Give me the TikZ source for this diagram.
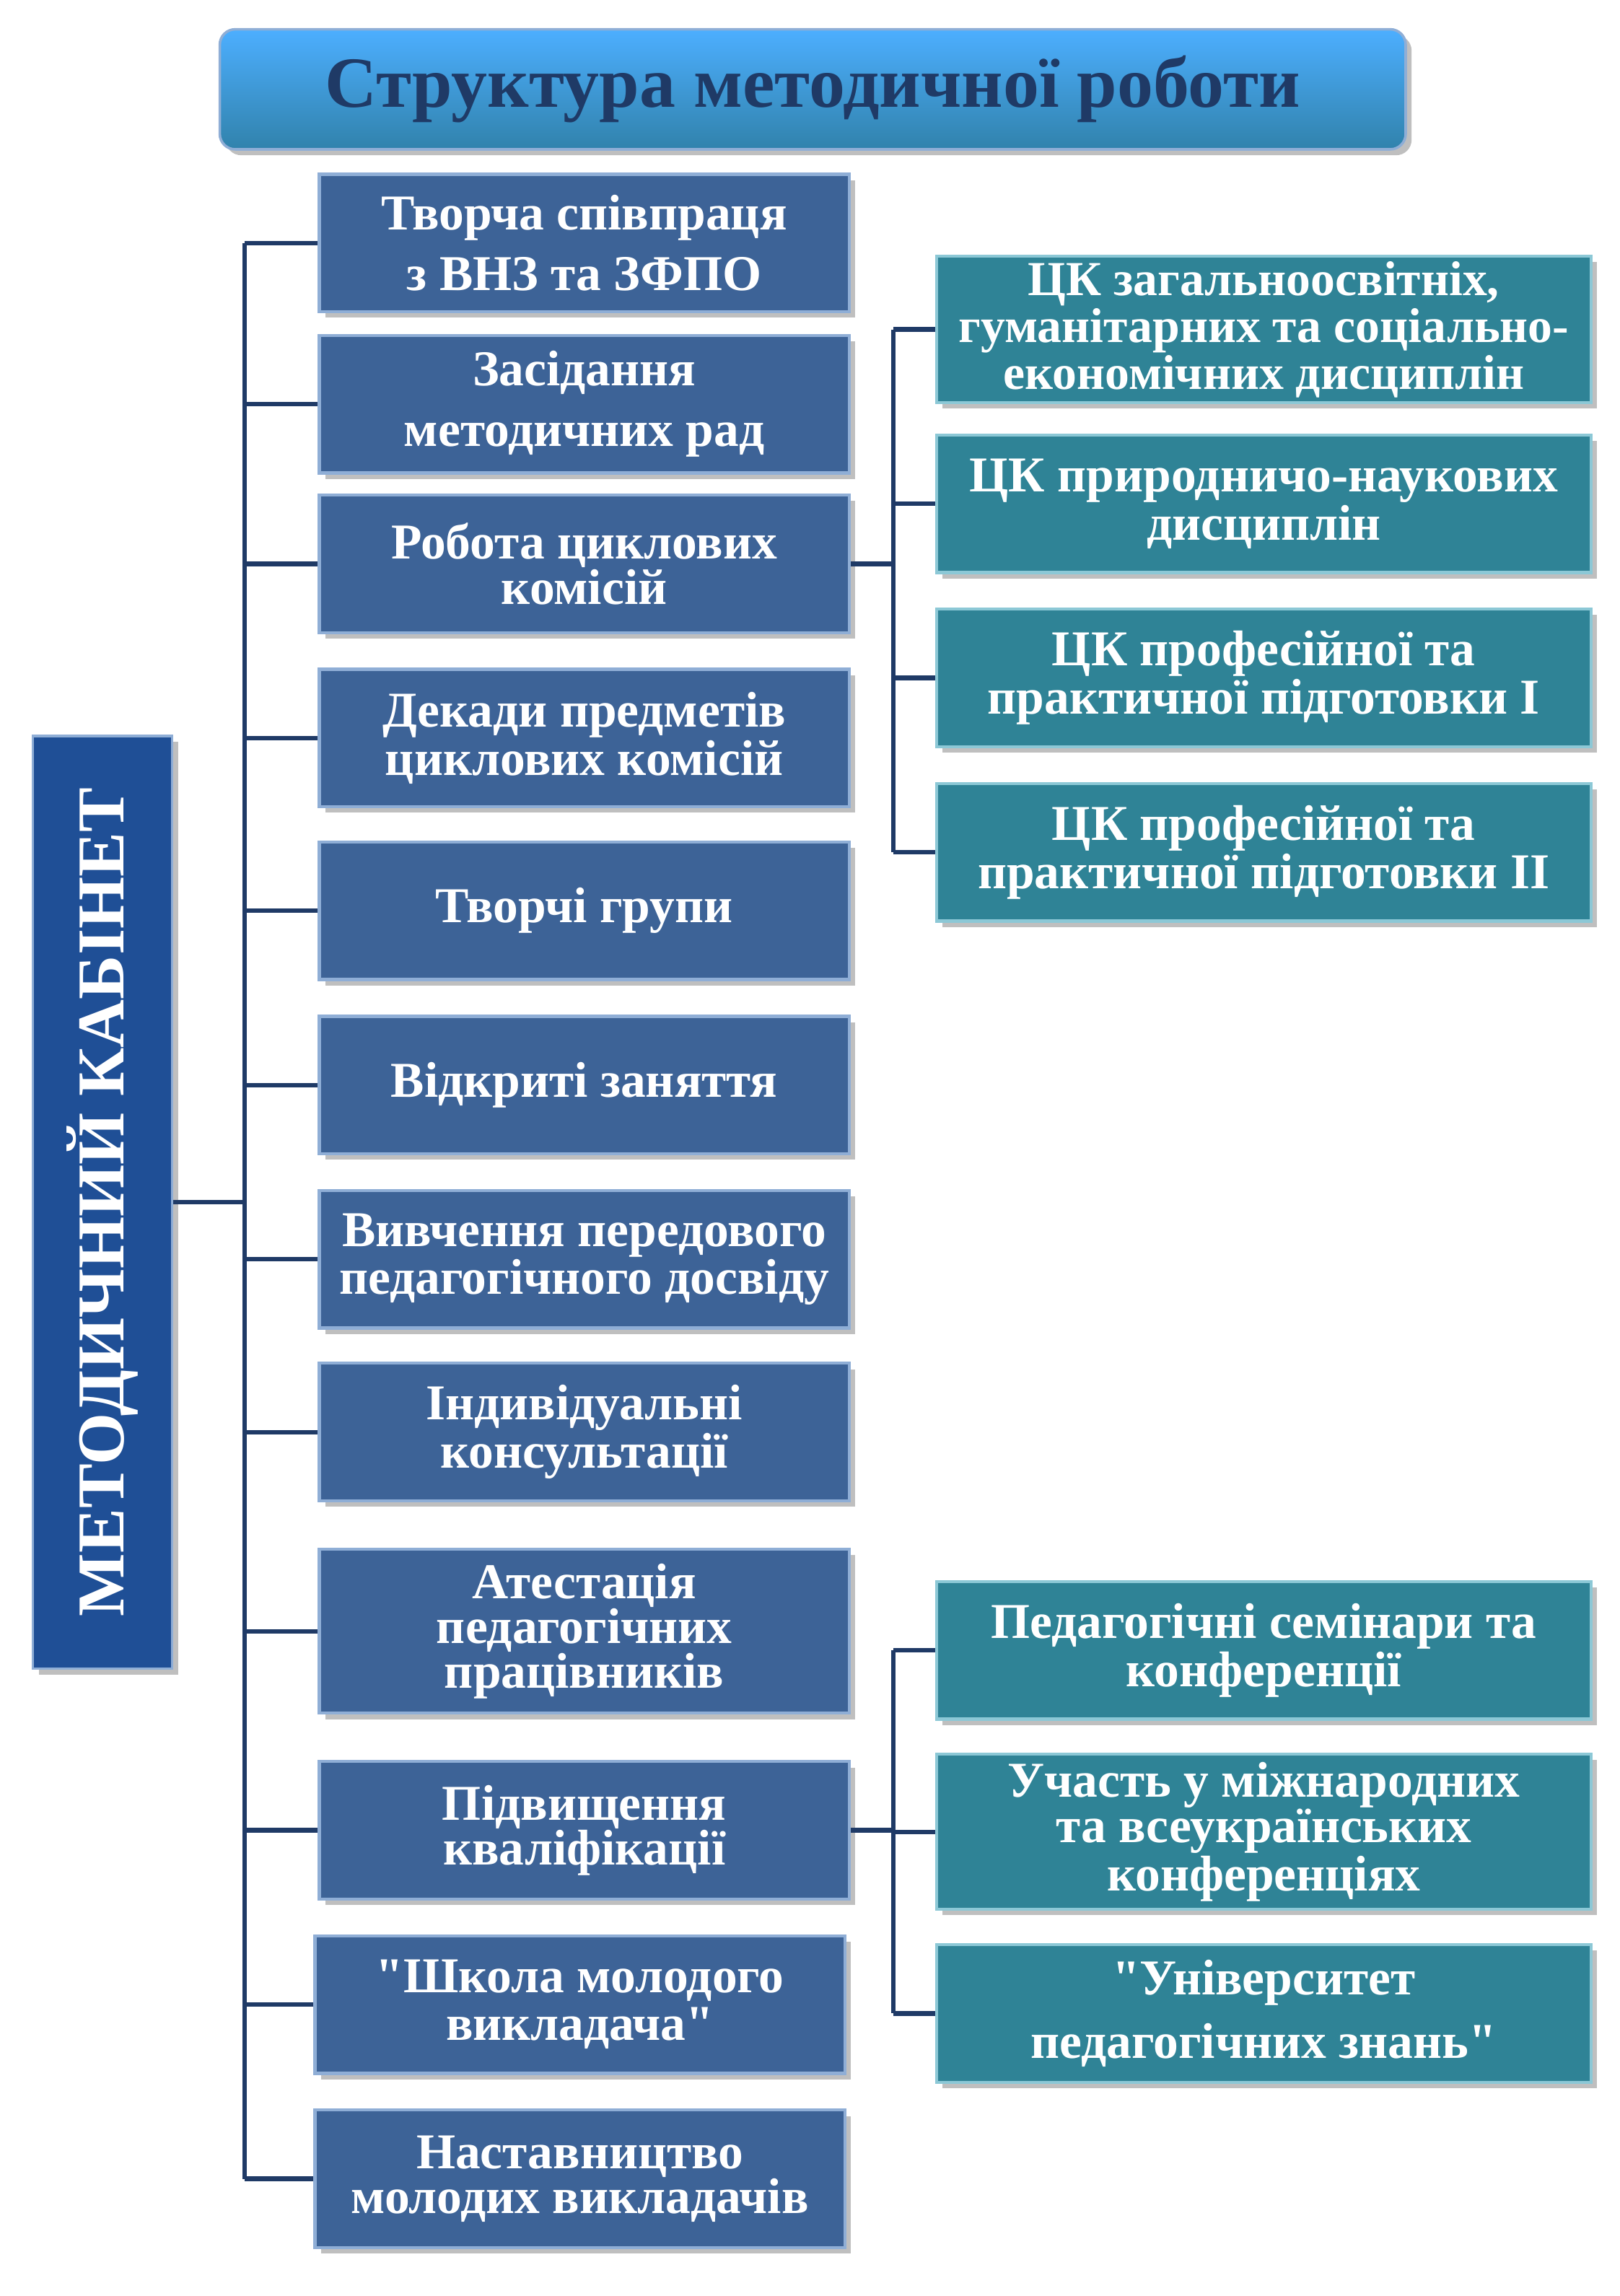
\documentclass[tikz,border=0pt]{standalone}
\usepackage{fontspec}
\setmainfont{Liberation Serif}
\usetikzlibrary{positioning,calc,shadows}
\definecolor{midblue}{HTML}{3D6397}
\definecolor{midedge}{HTML}{8FAED6}
\definecolor{tealbox}{HTML}{2F8396}
\definecolor{tealedge}{HTML}{8CC8D6}
\definecolor{navy}{HTML}{1F3A66}
\definecolor{darkblue}{HTML}{1F4F96}
\newcommand{\qt}{\textquotedbl}
\begin{document}
\begin{tikzpicture}
    [x=0.02cm, y=-0.02cm,
     midbox/.style={draw=midedge,line width=1.2pt,fill=midblue,text=white,
       minimum width=7.24cm,minimum height=1.88cm,align=center,inner sep=2pt,
       font=\bfseries\fontsize{19.5}{17.5}\selectfont,drop shadow},
     cabox/.style={midbox,draw=tealedge,fill=tealbox,minimum width=8.94cm},
     link/.style={navy,line width=1.8pt}]
    \useasboundingbox (0,0) rectangle (1106,1568);

    % Title
    \node (title) at (555,61) [rounded corners=6pt,draw=midedge,line width=1pt,
      top color=blue!45!cyan!70!white,bottom color=midblue!80!cyan,
      minimum width=16.2cm,minimum height=1.64cm,drop shadow,
      text=navy,font=\bfseries\fontsize{28}{28}\selectfont]
      {Структура методичної роботи};

    % Cabinet
    \node (mk) at (70,821) [draw=midedge,line width=1pt,fill=darkblue,
      drop shadow,text=white,
      font=\bfseries\fontsize{26}{26}\selectfont,rotate=90,
      minimum width=12.74cm,minimum height=1.9cm] {МЕТОДИЧНИЙ КАБІНЕТ};

    % Middle column
    \node (m1)  at (399,166)  [midbox] {Творча співпраця\\[6pt]з ВНЗ та ЗФПО};
    \node (m2)  at (399,276)  [midbox] {Засідання\\[6pt]методичних рад};
    \node (m3)  at (399,385)  [midbox] {Робота циклових\\комісій};
    \node (m4)  at (399,504)  [midbox] {Декади предметів\\циклових комісій};
    \node (m5)  at (399,622)  [midbox] {Творчі групи};
    \node (m6)  at (399,741)  [midbox] {Відкриті заняття};
    \node (m7)  at (399,860)  [midbox] {Вивчення передового\\педагогічного досвіду};
    \node (m8)  at (399,978)  [midbox] {Індивідуальні\\консультації};
    \node (m9)  at (399,1114) [midbox,minimum height=2.24cm] {Атестація\\педагогічних\\працівників};
    \node (m10) at (399,1250) [midbox] {Підвищення\\кваліфікації};
    \node (m11) at (396,1369) [midbox] {\qt Школа молодого\\[1pt]викладача\qt};
    \node (m12) at (396,1488) [midbox] {Наставництво\\молодих викладачів};

    % Right column
    \node (c1) at (863,225)  [cabox,font=\bfseries\fontsize{19}{16}\selectfont]
      {ЦК загальноосвітніх,\\гуманітарних та соціально-\\економічних дисциплін};
    \node (c2) at (863,344)  [cabox] {ЦК природничо-наукових\\дисциплін};
    \node (c3) at (863,463)  [cabox] {ЦК професійної та\\практичної підготовки I};
    \node (c4) at (863,582)  [cabox] {ЦК професійної та\\практичної підготовки II};
    \node (k1) at (863,1127) [cabox] {Педагогічні семінари та\\конференції};
    \node (k2) at (863,1251) [cabox,minimum height=2.12cm] {Участь у міжнародних\\та всеукраїнських\\конференціях};
    \node (k3) at (863,1375) [cabox] {\qt Університет\\[6pt]педагогічних знань\qt};

    % Buses
    \coordinate (busL) at (167,820);
    \coordinate (busR) at (610,385);
    \draw [link] (mk.south) -- (mk.south -| busL);
    \draw [link] (m1.west -| busL) -- (m12.west -| busL);
    \foreach \m in {m1,m2,m3,m4,m5,m6,m7,m8,m9,m10,m11,m12}
      \draw [link] (\m.west -| busL) -- (\m.west);

    \draw [link] (m3.east) -- (m3.east -| busR);
    \draw [link] (c1.west -| busR) -- (c4.west -| busR);
    \foreach \c in {c1,c2,c3,c4}
      \draw [link] (\c.west -| busR) -- (\c.west);

    \draw [link] (m10.east) -- (m10.east -| busR);
    \draw [link] (k1.west -| busR) -- (k3.west -| busR);
    \foreach \k in {k1,k2,k3}
      \draw [link] (\k.west -| busR) -- (\k.west);
\end{tikzpicture}
\end{document}
